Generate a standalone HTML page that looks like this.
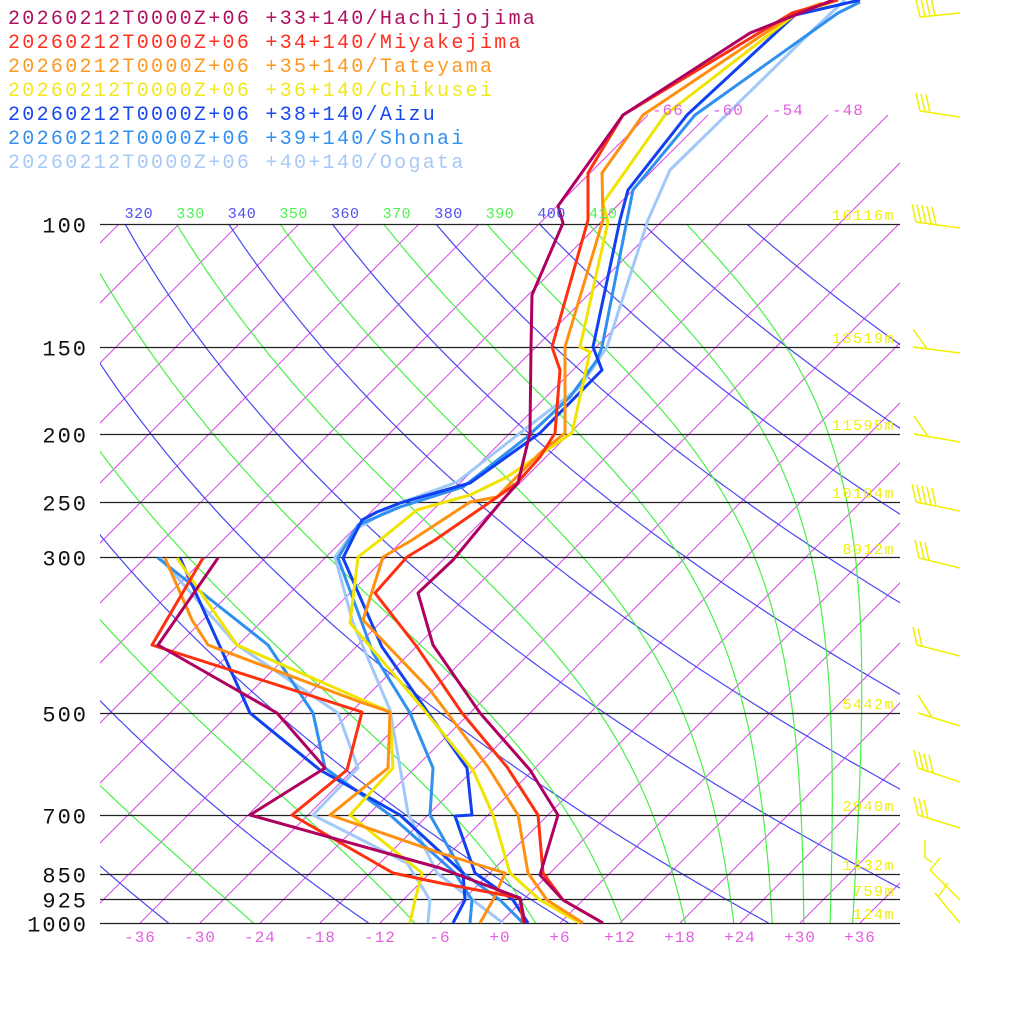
<!DOCTYPE html>
<html><head><meta charset="utf-8"><style>
html,body{margin:0;padding:0;background:#fff;}
svg{display:block;}
</style></head><body>
<svg id="s" width="1024" height="1024" xmlns="http://www.w3.org/2000/svg" font-family="Liberation Mono, DejaVu Sans Mono, monospace">
<defs><clipPath id="c"><rect x="100" y="224" width="800" height="699"/></clipPath>
<clipPath id="c2"><rect x="100" y="0" width="800" height="923"/></clipPath>
<clipPath id="c3"><rect x="100" y="190" width="800" height="40"/></clipPath></defs>
<g id="grid"></g>
<g id="snd" fill="none" stroke-width="3" stroke-linejoin="round"></g>
<g id="txt"></g>
</svg>
<script>
var NS="http://www.w3.org/2000/svg";
function el(p,t,a,txt){var e=document.createElementNS(NS,t);for(var k in a)e.setAttribute(k,a[k]);if(txt!==undefined)e.textContent=txt;p.appendChild(e);return e;}
var grid=document.getElementById('grid'),snd=document.getElementById('snd'),txt=document.getElementById('txt');
function Y(p){return 923-303.6*Math.log(1000/p);}
function X(T,y){return 500+10*T+(923-y);}
var gc=el(grid,'g',{'clip-path':'url(#c)',fill:'none'});
// isotherms
for(var T=-150;T<=60;T+=6){el(gc,'line',{x1:X(T,923),y1:923,x2:X(T,224),y2:224,stroke:'#d848e8','stroke-width':1});}
var g2=el(grid,'g',{'clip-path':'url(#c2)'});
[-66,-60,-54,-48,-42,-36].forEach(function(T){el(g2,'line',{x1:X(T,224),y1:224,x2:X(T,115),y2:115,stroke:'#d848e8','stroke-width':1});
 if(T<=-48)el(txt,'text',{x:X(T,115)+4,y:115,fill:'#e060e0','font-size':16,'letter-spacing':1},String(T));});
// dry adiabats (blue)
for(var th=200;th<=440;th+=20){var pts=[];for(var p=1000;p>=96;p-=4){var y=Y(p);var Tk=th*Math.pow(p/1000,0.2857);pts.push(X(Tk-273.15,y).toFixed(1)+','+y.toFixed(1));}
 el(gc,'polyline',{points:pts.join(' '),stroke:'#4848f0','stroke-width':1.2,fill:'none'});}
// moist adiabats (green), labelled by theta-e: integrate down from 50 hPa
function es(Tc){return 6.112*Math.exp(17.67*Tc/(Tc+243.5));}
for(var te=190;te<=430;te+=20){var p=50,T=te*Math.pow(0.05,0.2857),pts=[],dl=0.004;
 while(p<=1005){var y=Y(p);if(p>=90)pts.push(X(T-273.15,y).toFixed(1)+','+y.toFixed(1));
  var e=es(T-273.15),rs=0.622*e/Math.max(p-e,1);var Rd=287,cp=1005,L=2.5e6;
  var d=(Rd*T+L*rs)/(cp+L*L*rs*0.622/(Rd*T*T));
  T+=d*dl;p=p*Math.exp(dl);}
 el(gc,'polyline',{points:pts.join(' '),stroke:'#48f048','stroke-width':1.2,fill:'none'});}
// pressure lines
[[100,'100'],[150,'150'],[200,'200'],[250,'250'],[300,'300'],[500,'500'],[700,'700'],[850,'850'],[925,'925'],[1000,'1000']].forEach(function(a){var y=Math.round(Y(a[0]))+0.5;
 el(grid,'line',{x1:100,y1:y,x2:900,y2:y,stroke:'#222','stroke-width':1.3});
 el(txt,'text',{x:88,y:y+8,'text-anchor':'end',fill:'#111','font-size':22,'letter-spacing':2},a[1]);});
// theta labels
var gt=el(txt,'g',{'clip-path':'url(#c3)'});
for(var i=0;i<11;i++){var th=310+10*i;el(gt,'text',{x:73+51.6*i,y:218,fill:((th/10)%2==0)?'#5050f0':'#50f050','font-size':15,'letter-spacing':0.5},String(th));}
// bottom labels
var bl=['-36','-30','-24','-18','-12','-6','+0','+6','+12','+18','+24','+30','+36'];
bl.forEach(function(s,i){el(txt,'text',{x:140+60*i,y:942,'text-anchor':'middle',fill:'#e060e0','font-size':16,'letter-spacing':1},s);});
// height labels
[['16116m',224],['13519m',347],['11595m',434],['10104m',502],['8912m',558],['5442m',713],['2940m',815],['1432m',874],['759m',900],['124m',923]].forEach(function(a){
 el(txt,'text',{x:895,y:a[1]-4,'text-anchor':'end',fill:'#f0f000','font-size':15,'letter-spacing':1.5},a[0]);});
// legend
var leg=[['#b01060','Hachijojima','+33'],['#ff3020','Miyakejima','+34'],['#ff9820','Tateyama','+35'],['#f0e820','Chikusei','+36'],['#1848f0','Aizu','+38'],['#3090f0','Shonai','+39'],['#a8c8f8','Oogata','+40']];
leg.forEach(function(a,i){el(txt,'text',{x:8,y:24+24*i,fill:a[0],'font-size':20,'letter-spacing':2.3},'20260212T0000Z+06 '+a[2]+'+140/'+a[1]);});
// soundings
var S={
'#b0005f':[[[833,0],[750,33],[623,115],[558,206],[563,223],[532,295],[531,347],[530,433],[518,483],[500,503],[453,560],[418,593],[433,645],[480,713],[530,770],[558,815],[540,875],[563,900],[603,923]],
 [[218,558],[158,645],[277,713],[325,768],[250,815],[440,868],[520,898],[525,923]]],
'#ff3010':[[[838,0],[792,13],[623,115],[588,173],[588,220],[552,347],[560,370],[555,433],[540,457],[517,483],[493,500],[435,540],[407,557],[375,593],[417,647],[462,713],[507,767],[538,815],[543,873],[563,900],[603,923]],
 [[203,558],[152,645],[362,712],[347,770],[292,815],[393,873],[440,883],[520,898],[523,923]]],
'#ff9010':[[[822,3],[795,13],[643,115],[602,173],[603,220],[565,347],[565,433],[540,453],[497,497],[470,502],[412,540],[383,557],[363,620],[430,690],[488,767],[518,815],[528,873],[547,900],[583,923]],
 [[165,558],[192,620],[208,645],[360,702],[390,712],[388,768],[330,815],[440,853],[505,873],[493,900],[480,923]]],
'#f0e400':[[[830,3],[797,13],[665,115],[603,203],[608,222],[580,347],[590,352],[572,433],[507,477],[470,495],[417,510],[380,540],[358,557],[350,623],[420,705],[473,770],[493,815],[510,873],[540,900],[580,923]],
 [[177,558],[237,645],[390,712],[393,768],[350,815],[422,873],[415,900],[410,923]]],
'#1040f0':[[[860,0],[795,15],[687,115],[628,190],[620,220],[593,347],[602,370],[540,433],[470,483],[400,503],[377,512],[362,520],[343,558],[382,647],[467,768],[472,815],[455,816],[475,873],[513,900],[528,923]],
 [[180,558],[250,713],[320,770],[400,815],[463,873],[465,900],[453,923]]],
'#3090f0':[[[860,2],[838,13],[695,115],[633,190],[627,220],[602,347],[597,360],[570,397],[527,437],[463,487],[400,507],[358,525],[338,558],[373,653],[410,713],[433,768],[430,815],[463,873],[500,900],[523,923]],
 [[158,558],[268,645],[313,713],[325,768],[390,815],[455,873],[472,900],[470,923]]],
'#a0c8f8':[[[845,0],[813,30],[670,170],[648,220],[607,347],[580,387],[533,423],[457,482],[400,503],[355,530],[335,557],[353,623],[390,710],[408,813],[437,873],[503,923]],
 [[160,558],[237,645],[338,713],[358,768],[313,815],[407,863],[430,900],[428,923]]]};
var order=['#a0c8f8','#3090f0','#1040f0','#f0e400','#ff9010','#ff3010','#b0005f'];
order.forEach(function(c){S[c].forEach(function(l){el(snd,'polyline',{points:l.map(function(p){return p.join(',');}).join(' '),stroke:c});});});
// wind barbs
var wb=el(txt,'g',{stroke:'#f0f000','stroke-width':1.5,fill:'none'});
function barb(x0,y0,y1,n,pen){el(wb,'line',{x1:x0,y1:y0,x2:960,y2:y1});var sl=(y1-y0)/(960-x0);
 var x=x0;if(pen){el(wb,'polyline',{points:(x)+','+(y0-18)+' '+(x+14)+','+(y0+14*sl)+' '+x+','+y0});x+=6;}
 for(var i=0;i<n;i++){var bx=x+5*i;var by=y0+(bx-x0)*sl;el(wb,'line',{x1:bx-4,y1:by-18,x2:bx,y2:by});}}
barb(920,17,13,4,false);barb(920,111,117,3,false);barb(916,222,228,5,false);barb(913,347,353,0,true);barb(914,434,442,0,true);
barb(916,502,511,5,false);barb(919,558,568,3,false);barb(917,645,656,2,false);barb(918,713,726,0,true);barb(918,768,782,4,false);barb(918,815,828,3,false);
el(wb,'line',{x1:930,y1:870,x2:960,y2:900});el(wb,'line',{x1:925,y1:840,x2:925,y2:858});el(wb,'line',{x1:925,y1:858,x2:932,y2:862});el(wb,'line',{x1:940,y1:858,x2:930,y2:870});
el(wb,'line',{x1:935,y1:893,x2:960,y2:923});el(wb,'line',{x1:948,y1:883,x2:938,y2:897});
</script>
</body></html>
